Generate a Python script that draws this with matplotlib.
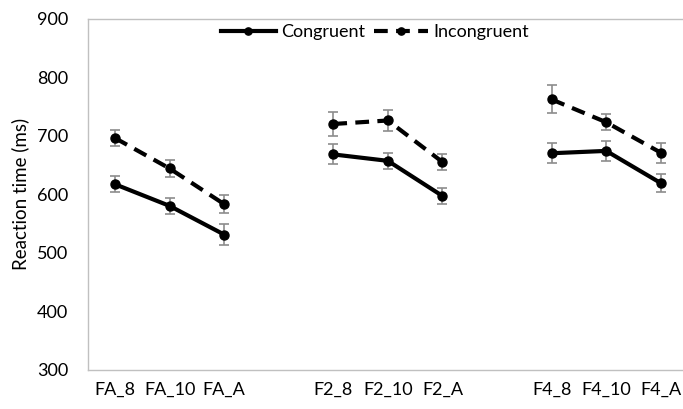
import numpy as np
import matplotlib
matplotlib.use("Agg")
import matplotlib.pyplot as plt

plt.rcParams['font.family'] = ['Lato', 'DejaVu Sans']

# categories (empty strings are the gaps between groups)
categories = ['FA_8', 'FA_10', 'FA_A', '', 'F2_8', 'F2_10', 'F2_A', '', 'F4_8', 'F4_10', 'F4_A']

congruent = [617, 580, 531, np.nan, 668, 657, 597, np.nan, 670, 674, 619]
congruent_err = [14, 14, 18, np.nan, 17, 14, 14, np.nan, 17, 17, 16]

incongruent = [696, 644, 583, np.nan, 720, 726, 655, np.nan, 762, 723, 671]
incongruent_err = [13, 14, 16, np.nan, 21, 18, 14, np.nan, 24, 14, 17]

x = np.arange(len(categories))

fig = plt.figure(figsize=(6.83, 4.09), dpi=100)
ax = fig.add_axes([0.1284, 0.0961, 0.879, 0.8582])

err_color = '#8c8c8c'
ax.errorbar(x, congruent, yerr=congruent_err, fmt='none', ecolor=err_color,
            elinewidth=1.2, capsize=3.5, capthick=1.2, zorder=1)
ax.errorbar(x, incongruent, yerr=incongruent_err, fmt='none', ecolor=err_color,
            elinewidth=1.2, capsize=3.5, capthick=1.2, zorder=1)

ax.plot(x, congruent, color='black', lw=3, marker='o', markersize=6.5,
        label='Congruent', zorder=2)
ax.plot(x, incongruent, color='black', lw=3, marker='o', markersize=6.5,
        dashes=(3.3, 2), label='Incongruent', zorder=2)

ax.set_xlim(-0.5, len(categories) - 0.5)
ax.set_ylim(300, 900)
ax.set_yticks(range(300, 901, 100))
ax.set_xticks(x)
ax.set_xticklabels(categories)
ax.tick_params(length=0, labelsize=13, pad=9)
ax.tick_params(axis='y', pad=14)

for side in ['left', 'top', 'bottom']:
    ax.spines[side].set_color('#c0c0c0')
    ax.spines[side].set_linewidth(1)
ax.spines['right'].set_visible(False)

ax.set_ylabel('Reaction time (ms)', fontsize=13.5, labelpad=6)

ax.legend(loc='center', bbox_to_anchor=(0.479, 0.962), ncol=2, frameon=False,
          fontsize=13, handlelength=3.0, markerscale=0.8, columnspacing=0.5,
          handletextpad=0.3)

fig.savefig('out.png', dpi=100)
